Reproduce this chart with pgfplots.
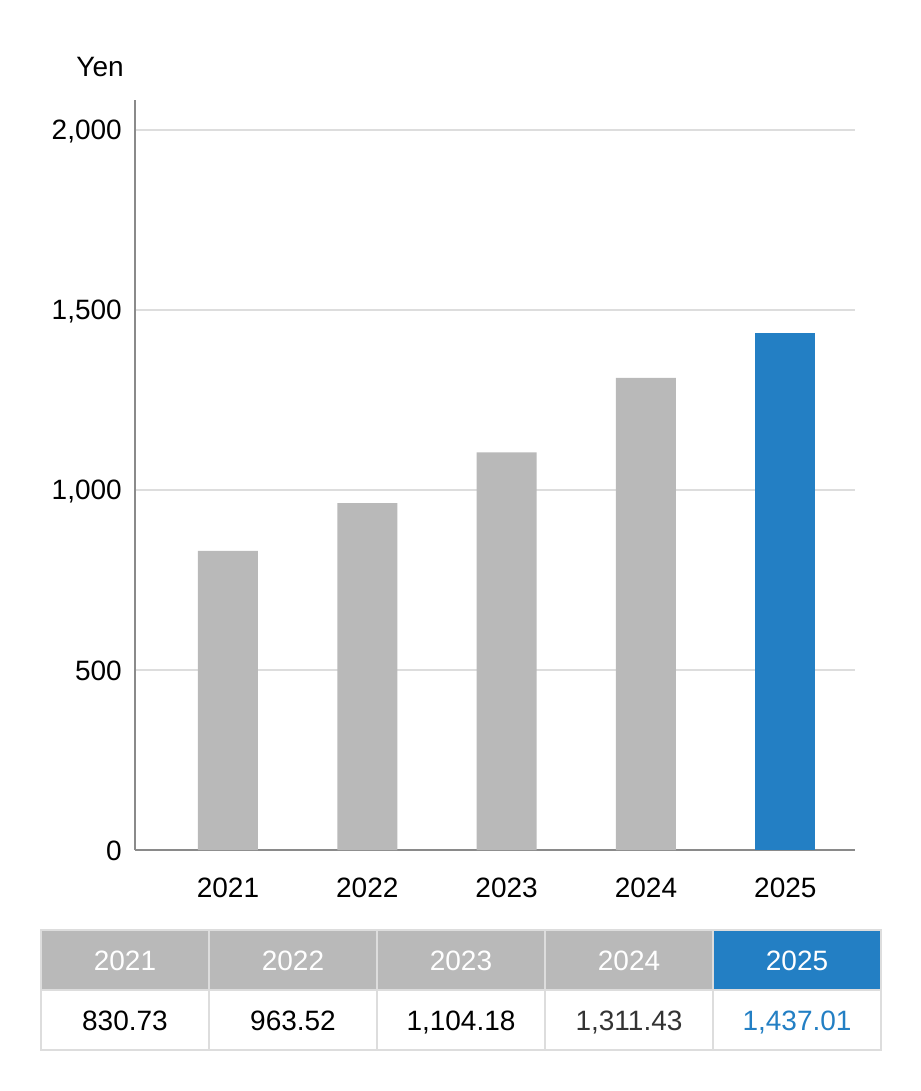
\documentclass[border=0pt]{standalone}
\usepackage{fontspec}
\setmainfont{Liberation Sans}
\usepackage{pgfplots}
\pgfplotsset{compat=1.18}

\definecolor{bargray}{HTML}{B9B9B9}
\definecolor{barblue}{HTML}{237FC4}
\definecolor{gridgray}{HTML}{DDDDDD}
\definecolor{axisgray}{HTML}{8A8A8A}
\definecolor{valdark}{HTML}{333333}

\begin{document}
\fontsize{28pt}{32pt}\selectfont
\begin{tikzpicture}
\useasboundingbox (0pt,0pt) rectangle (920pt,-1091pt);

\begin{axis}[
    at={(135pt,-850pt)}, anchor=south west,
    scale only axis,
    width=720pt, height=750pt,
    xmin=-0.667, xmax=4.5,
    ymin=0, ymax=2083.3,
    axis x line*=bottom,
    axis y line*=left,
    axis line style={draw=axisgray, line width=1.5pt},
    xtick={0,1,2,3,4},
    xticklabels={2021,2022,2023,2024,2025},
    ytick={0,500,1000,1500,2000},
    ymajorgrids=true,
    grid style={draw=gridgray, line width=1.2pt},
    major tick length=0pt,
    /pgf/number format/assume math mode=true,
    /pgf/number format/1000 sep={,},
    ticklabel style={font=\fontsize{28pt}{32pt}\selectfont, inner sep=0pt},
    xticklabel style={anchor=base, yshift=-47pt},
    yticklabel style={anchor=base east, xshift=-13pt, yshift=-10pt},
    ybar, bar width=60pt, bar shift=0pt,
    clip=false,
]
\addplot[fill=bargray, draw=none] coordinates {
    (0,830.73) (1,963.52) (2,1104.18) (3,1311.43)
};
\addplot[fill=barblue, draw=none] coordinates {
    (4,1437.01)
};
\end{axis}

\node[anchor=base, inner sep=0pt] at (100pt,-77pt) {Yen};

% table below the chart
\fill[bargray] (41pt,-930pt) rectangle (713pt,-990pt);
\fill[barblue] (713pt,-930pt) rectangle (881pt,-990pt);
\draw[gridgray, line width=1.5pt] (41pt,-930pt) rectangle (881pt,-1050pt);
\draw[gridgray, line width=1.5pt] (41pt,-990pt) -- (881pt,-990pt);
\foreach \x in {209,377,545,713}
    \draw[gridgray, line width=1.5pt] (\x pt,-930pt) -- (\x pt,-1050pt);
\begin{scope}[every node/.style={anchor=base, inner sep=0pt}]
\foreach \yr [count=\i from 0] in {2021,2022,2023,2024,2025}
    \node[white] at (125pt+\i*168pt,-970pt) {\yr};
\node[black]   at (125pt,-1030pt) {830.73};
\node[black]   at (293pt,-1030pt) {963.52};
\node[black]   at (461pt,-1030pt) {1,104.18};
\node[valdark] at (629pt,-1030pt) {1,311.43};
\node[barblue] at (797pt,-1030pt) {1,437.01};
\end{scope}
\end{tikzpicture}
\end{document}
